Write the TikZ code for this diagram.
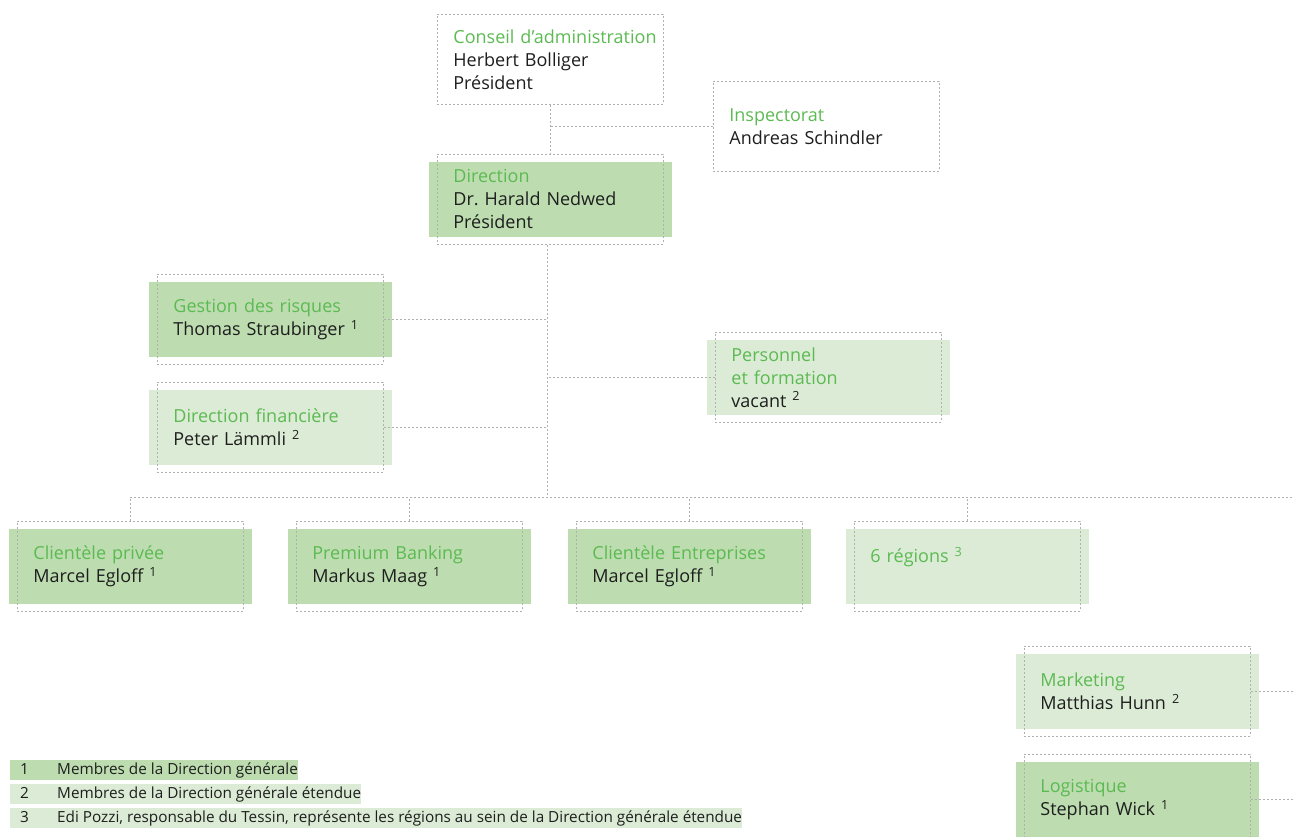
\documentclass[tikz,border=0pt]{standalone}
\usepackage{fontspec}
\setmainfont{Open Sans}
\usetikzlibrary{positioning,backgrounds}

\definecolor{boxdark}{RGB}{189,221,176}
\definecolor{boxlight}{RGB}{219,235,213}
\definecolor{titlegreen}{RGB}{92,186,82}
\definecolor{framegray}{RGB}{176,176,176}
\definecolor{inkgray}{RGB}{30,30,30}

\tikzset{
  unit/.style={draw=framegray, dash pattern=on 2pt off 2pt, line width=0.8pt,
    anchor=north west, minimum width=226pt, minimum height=90pt,
    inner xsep=16pt, inner ysep=0pt, text width=194pt, align=left,
    font=\fontsize{18}{23}\selectfont, text=inkgray},
  link/.style={draw=framegray, dash pattern=on 2pt off 2pt, line width=0.8pt},
  note/.style={anchor=west, inner sep=0pt, minimum height=20pt,
    font=\fontsize{15.3}{16}\selectfont, text=inkgray},
}
\newcommand{\ttl}[1]{\textcolor{titlegreen}{#1}}

\begin{document}
\begin{tikzpicture}[x=1pt, y=-1pt]
  \useasboundingbox (0,0) rectangle (1293,837);

  % top of the chart
  \node[unit, minimum width=220pt] (conseil) at (437,14)
    {\ttl{Conseil~d'administration}\\Herbert Bolliger\\Président};
  \node[unit] (inspect) at (713,81) {\ttl{Inspectorat}\\Andreas Schindler};
  \node[unit, minimum width=220pt] (direction) at (437,154)
    {\ttl{Direction}\\Dr.\ Harald Nedwed\\Président};

  % staff units
  \node[unit] (risques) at (157,274) {\ttl{Gestion des risques}\\Thomas~Straubinger~\textsuperscript{1}};
  \node[unit] (finances) at (157,382) {\ttl{Direction financière}\\Peter Lämmli~\textsuperscript{2}};
  \node[unit] (personnel) at (715,332) {\ttl{Personnel}\\\ttl{et formation}\\vacant~\textsuperscript{2}};

  % business units
  \node[unit] (prive) at (17,521) {\ttl{Clientèle privée}\\Marcel Egloff~\textsuperscript{1}};
  \node[unit] (premium) at (296,521) {\ttl{Premium Banking}\\Markus Maag~\textsuperscript{1}};
  \node[unit] (entreprises) at (576,521) {\ttl{Clientèle~Entreprises}\\Marcel Egloff~\textsuperscript{1}};
  \node[unit] (regions) at (854,521) {\ttl{6 régions~\textsuperscript{3}}\\\mbox{}};

  \node[unit] (marketing) at (1024,646) {\ttl{Marketing}\\Matthias Hunn~\textsuperscript{2}};
  \node[unit] (logistique) at (1024,754) {\ttl{Logistique}\\Stephan Wick~\textsuperscript{1}};

  \begin{scope}[on background layer]
    \foreach \n/\c in {direction/boxdark, risques/boxdark, finances/boxlight,
        personnel/boxlight, prive/boxdark, premium/boxdark, entreprises/boxdark,
        regions/boxlight, marketing/boxlight, logistique/boxdark}
      \fill[\c] ([xshift=-8pt,yshift=-8pt]\n.north west) rectangle ([xshift=8pt,yshift=8pt]\n.south east);
  \end{scope}

  % connectors
  \coordinate (bus) at (547,497);
  \coordinate (busend) at (1293,497);
  \draw[link] (conseil.south) -- (conseil.south |- direction.north);
  \draw[link] (inspect.west) -- (inspect.west -| conseil.south);
  \draw[link] (direction.south -| bus) -- (bus);
  \draw[link] (risques.east) -- (risques.east -| bus);
  \draw[link] (finances.east) -- (finances.east -| bus);
  \draw[link] (personnel.west) -- (personnel.west -| bus);
  \draw[link] (prive.north |- bus) -- (busend);
  \foreach \n in {prive, premium, entreprises, regions}
    \draw[link] (\n.north) -- (\n.north |- bus);
  \draw[link] (marketing.east) -- (marketing.east -| busend);
  \draw[link] (logistique.east) -- (logistique.east -| busend);

  % footnotes
  \node[note, fill=boxdark] (note1) at (10,770)
    {\makebox[47pt][l]{\hspace{10pt}1}Membres de la Direction générale\hspace{13pt}};
  \node[note, fill=boxlight] (note2) at (10,794)
    {\makebox[47pt][l]{\hspace{10pt}2}Membres de la Direction générale étendue\hspace{13pt}};
  \node[note, fill=boxlight] (note3) at (10,818)
    {\makebox[47pt][l]{\hspace{10pt}3}Edi Pozzi, responsable du Tessin, représente les régions au sein de la Direction générale étendue\hspace{16pt}};
\end{tikzpicture}
\end{document}
